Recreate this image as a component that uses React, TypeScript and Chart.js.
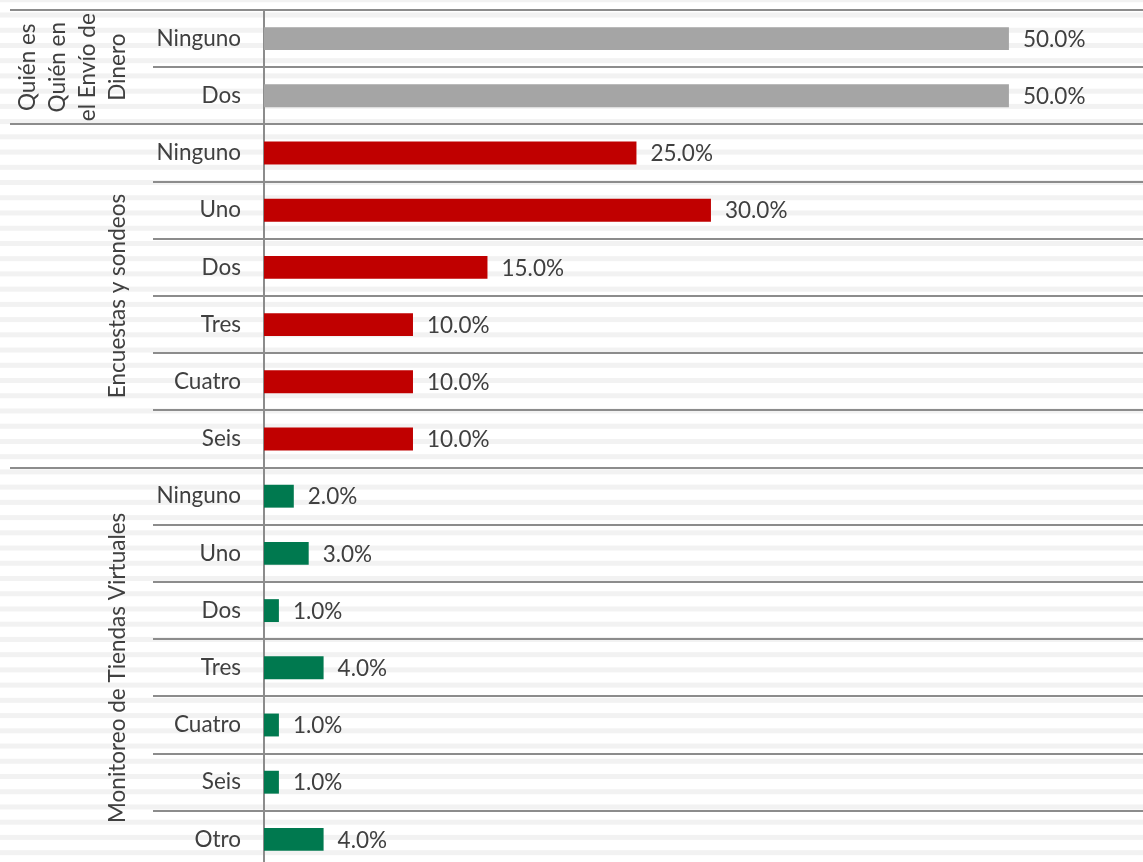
import React, { useEffect, useRef } from "react";
import { Chart, registerables } from "chart.js";

Chart.register(...registerables);

const group1Name = ["Quién es", "Quién en", "el Envío de", "Dinero"];
const group1Categories = ["Ninguno", "Dos"];
const group1Values = [50, 50];

const group2Name = ["Encuestas y sondeos"];
const group2Categories = ["Ninguno", "Uno", "Dos", "Tres", "Cuatro", "Seis"];
const group2Values = [25, 30, 15, 10, 10, 10];

const group3Name = ["Monitoreo de Tiendas Virtuales"];
const group3Categories = ["Ninguno", "Uno", "Dos", "Tres", "Cuatro", "Seis", "Otro"];
const group3Values = [2, 3, 1, 4, 1, 1, 4];

const groupColors = ["#a5a5a5", "#c00000", "#00794f"];

const xMax = 59;

const FONT = "Lato";
const FONT_SIZE = 22.5;
const TEXT_COLOR = "#404040";
const LINE_COLOR = "#8c8c8c";

export default function App() {
  const canvasRef = useRef<HTMLCanvasElement | null>(null);

  useEffect(() => {
    const groups = [
      { name: group1Name, cats: group1Categories, vals: group1Values, color: groupColors[0] },
      { name: group2Name, cats: group2Categories, vals: group2Values, color: groupColors[1] },
      { name: group3Name, cats: group3Categories, vals: group3Values, color: groupColors[2] },
    ];
    const labels: string[] = [];
    const data: number[] = [];
    const colors: string[] = [];
    groups.forEach((g) => {
      g.cats.forEach((c, i) => {
        labels.push(c);
        data.push(g.vals[i]);
        colors.push(g.color);
      });
    });

    const decor = {
      id: "decor",
      beforeDraw(chart: any) {
        const { ctx, width, height } = chart;
        ctx.save();
        ctx.fillStyle = "#ffffff";
        ctx.fillRect(0, 0, width, height);
        ctx.fillStyle = "#f2f2f2";
        const period = 15.23;
        for (let c = -0.23; c < height + period; c += period) {
          ctx.fillRect(0, c - 2.5, width, 5);
        }
        ctx.restore();
      },
      beforeDatasetsDraw(chart: any) {
        const { ctx, chartArea, scales } = chart;
        const y = scales.y;
        const n = labels.length;
        const boundary = (i: number) => {
          if (i <= 0) return chartArea.top;
          if (i >= n) return chartArea.bottom;
          return (y.getPixelForValue(i - 1) + y.getPixelForValue(i)) / 2;
        };
        ctx.save();
        ctx.strokeStyle = LINE_COLOR;
        ctx.lineWidth = 2;
        let idx = 0;
        groups.forEach((g) => {
          const gy = Math.round(boundary(idx));
          ctx.beginPath();
          ctx.moveTo(10, gy);
          ctx.lineTo(chart.width, gy);
          ctx.stroke();
          for (let k = 1; k < g.cats.length; k++) {
            const ry = Math.round(boundary(idx + k));
            ctx.beginPath();
            ctx.moveTo(153, ry);
            ctx.lineTo(chart.width, ry);
            ctx.stroke();
          }
          idx += g.cats.length;
        });
        const by = Math.round(boundary(n));
        ctx.beginPath();
        ctx.moveTo(10, by);
        ctx.lineTo(chart.width, by);
        ctx.stroke();
        ctx.beginPath();
        ctx.moveTo(chartArea.left, chartArea.top);
        ctx.lineTo(chartArea.left, chartArea.bottom);
        ctx.stroke();
        ctx.restore();
      },
      afterDatasetsDraw(chart: any) {
        const { ctx, scales } = chart;
        const y = scales.y;
        const x = scales.x;
        ctx.save();
        ctx.font = `${FONT_SIZE}px ${FONT}`;
        ctx.fillStyle = TEXT_COLOR;
        ctx.textBaseline = "middle";
        ctx.textAlign = "left";
        data.forEach((v, i) => {
          ctx.fillText(v.toFixed(1) + "%", x.getPixelForValue(v) + 14, y.getPixelForValue(i) + 1);
        });
        const rowH = y.getPixelForValue(1) - y.getPixelForValue(0);
        let idx = 0;
        groups.forEach((g) => {
          const top = y.getPixelForValue(idx) - rowH / 2;
          const bottom = y.getPixelForValue(idx + g.cats.length - 1) + rowH / 2;
          const cy = (top + bottom) / 2;
          const nl = g.name.length;
          g.name.forEach((line, k) => {
            const cx = 118 - (nl - 1 - k) * 30;
            ctx.save();
            ctx.translate(cx, cy);
            ctx.rotate(-Math.PI / 2);
            ctx.textAlign = "center";
            ctx.textBaseline = "middle";
            ctx.fillText(line, 0, 0);
            ctx.restore();
          });
          idx += g.cats.length;
        });
        ctx.restore();
      },
    };

    const chart = new Chart(canvasRef.current as HTMLCanvasElement, {
      type: "bar",
      data: {
        labels,
        datasets: [
          {
            data,
            backgroundColor: colors,
            borderWidth: 0,
            barPercentage: 1,
            categoryPercentage: 0.4,
          },
        ],
      },
      options: {
        indexAxis: "y",
        animation: false,
        responsive: false,
        maintainAspectRatio: false,
        devicePixelRatio: 1,
        layout: { padding: { top: 10, left: 0, right: 0, bottom: 0 } },
        plugins: {
          legend: { display: false },
          tooltip: { enabled: false },
          title: { display: false },
        },
        scales: {
          x: {
            display: false,
            min: 0,
            max: xMax,
          },
          y: {
            afterFit: (s: any) => {
              s.width = 264;
              s.paddingTop = 0;
              s.paddingBottom = 0;
            },
            grid: { display: false, drawTicks: false },
            border: { display: false },
            ticks: {
              padding: 23,
              color: TEXT_COLOR,
              font: { family: FONT, size: FONT_SIZE },
            },
          },
        },
      },
      plugins: [decor],
    });
    return () => chart.destroy();
  }, []);

  return (
    <div style={{ position: "absolute", left: 0, top: 0, width: 1143, height: 862, overflow: "hidden" }}>
      <canvas ref={canvasRef} width={1143} height={868} style={{ display: "block" }} />
    </div>
  );
}
